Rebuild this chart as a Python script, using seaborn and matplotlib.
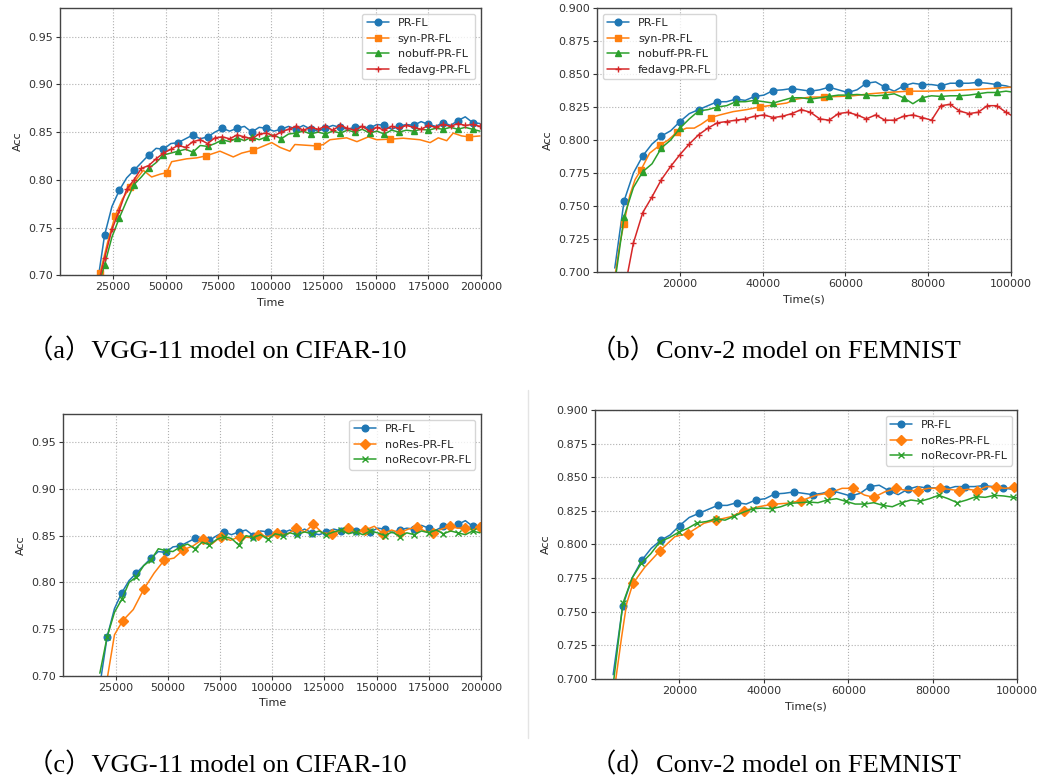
import matplotlib
matplotlib.use("Agg")
import matplotlib.pyplot as plt
import seaborn as sns
from matplotlib.lines import Line2D

# ---- time grids (s) ----
T_A = [17500, 21000, 24500, 28000, 31500, 35000, 38500, 42000, 45500, 49000,
       52500, 56000, 59500, 63000, 66500, 70000, 73500, 77000, 80500, 84000,
       87500, 91000, 94500, 98000, 101500, 105000, 108500, 112000, 115500, 119000,
       122500, 126000, 129500, 133000, 136500, 140000, 143500, 147000, 150500, 154000,
       157500, 161000, 164500, 168000, 171500, 175000, 178500, 182000, 185500, 189000,
       192500, 196000, 199500]
T_B = [4300, 6550, 8800, 11050, 13300, 15550, 17800, 20050, 22300, 24550,
       26800, 29050, 31300, 33550, 35800, 38050, 40300, 42550, 44800, 47050,
       49300, 51550, 53800, 56050, 58300, 60550, 62800, 65050, 67300, 69550,
       71800, 74050, 76300, 78550, 80800, 83050, 85300, 87550, 89800, 92050,
       94300, 96550, 98800, 101050]
T_D_REC = [4400, 6600, 8800, 11000, 13200, 15400, 17600, 19800, 22000, 24200,
           26400, 28600, 30800, 33000, 35200, 37400, 39600, 41800, 44000, 46200,
           48400, 50600, 52800, 55000, 57200, 59400, 61600, 63800, 66000, 68200,
           70400, 72600, 74800, 77000, 79200, 81400, 83600, 85800, 88000, 90200,
           92400, 94600, 96800, 99000, 101200]

# ---- VGG-11 / CIFAR-10 ----
prfl_a = [0.690, 0.742, 0.772, 0.789, 0.802, 0.810, 0.818, 0.826, 0.833, 0.832,
          0.838, 0.839, 0.843, 0.847, 0.843, 0.845, 0.850, 0.854, 0.851, 0.854,
          0.856, 0.850, 0.855, 0.854, 0.851, 0.853, 0.856, 0.853, 0.857, 0.853,
          0.851, 0.854, 0.857, 0.855, 0.853, 0.855, 0.856, 0.854, 0.858, 0.857,
          0.853, 0.856, 0.858, 0.857, 0.861, 0.858, 0.856, 0.860, 0.857, 0.862,
          0.866, 0.860, 0.859]
syn_a_t = [18800, 22500, 26000, 29500, 33100, 39400, 43400, 47500, 50500, 52900,
           60000, 64800, 69100, 75900, 82200, 86200, 91700, 100500, 104400, 109100,
           111500, 121900, 125000, 128200, 136100, 141000, 146400, 150400, 156700, 163000,
           171000, 175800, 179700, 183700, 186800, 190800, 194400, 199500]
syn_a = [0.702, 0.735, 0.762, 0.780, 0.792, 0.810, 0.803, 0.806, 0.8075, 0.819,
         0.822, 0.823, 0.825, 0.830, 0.824, 0.828, 0.831, 0.839, 0.834, 0.830,
         0.837, 0.8355, 0.837, 0.842, 0.844, 0.840, 0.845, 0.842, 0.8426, 0.8436,
         0.842, 0.839, 0.844, 0.841, 0.849, 0.846, 0.845, 0.846]
nobuff_a = [0.685, 0.711, 0.740, 0.760, 0.778, 0.795, 0.803, 0.812, 0.818, 0.826,
            0.828, 0.830, 0.832, 0.829, 0.836, 0.835, 0.838, 0.842, 0.840, 0.844,
            0.841, 0.845, 0.842, 0.845, 0.847, 0.843, 0.848, 0.849, 0.851, 0.848,
            0.850, 0.848, 0.851, 0.849, 0.852, 0.850, 0.853, 0.849, 0.851, 0.848,
            0.852, 0.850, 0.852, 0.851, 0.853, 0.852, 0.854, 0.853, 0.855, 0.853,
            0.855, 0.853, 0.851]
fedavg_a = [0.686, 0.718, 0.748, 0.768, 0.790, 0.800, 0.812, 0.815, 0.822, 0.828,
            0.832, 0.836, 0.834, 0.840, 0.842, 0.838, 0.844, 0.845, 0.843, 0.847,
            0.845, 0.843, 0.848, 0.849, 0.846, 0.850, 0.853, 0.856, 0.852, 0.855,
            0.853, 0.856, 0.852, 0.857, 0.854, 0.852, 0.856, 0.851, 0.855, 0.852,
            0.856, 0.854, 0.857, 0.855, 0.853, 0.857, 0.855, 0.858, 0.856, 0.859,
            0.857, 0.858, 0.856]
nores_c_t = [20500, 24500, 28400, 33500, 38600, 43500, 48400, 53000, 57500, 62100,
             66700, 71100, 75500, 80000, 84600, 89000, 93400, 97900, 102500, 107000,
             111400, 115600, 119700, 124100, 128500, 132500, 136500, 140500, 144500, 148900,
             153200, 157200, 161200, 165200, 169200, 173100, 177000, 181100, 185200, 188700,
             192300, 195900, 199500]
nores_c = [0.690, 0.744, 0.759, 0.771, 0.793, 0.810, 0.824, 0.826, 0.835, 0.839,
           0.846, 0.841, 0.849, 0.845, 0.849, 0.848, 0.851, 0.849, 0.853, 0.851,
           0.858, 0.854, 0.862, 0.853, 0.852, 0.855, 0.858, 0.853, 0.856, 0.860,
           0.852, 0.856, 0.853, 0.857, 0.859, 0.855, 0.853, 0.857, 0.860, 0.858,
           0.858, 0.856, 0.859]
norecovr_c = [0.703, 0.742, 0.768, 0.782, 0.800, 0.806, 0.818, 0.824, 0.836, 0.834,
              0.833, 0.838, 0.841, 0.836, 0.843, 0.840, 0.846, 0.849, 0.847, 0.840,
              0.850, 0.848, 0.851, 0.846, 0.852, 0.850, 0.853, 0.851, 0.854, 0.852,
              0.855, 0.851, 0.854, 0.856, 0.852, 0.854, 0.851, 0.855, 0.853, 0.850,
              0.854, 0.849, 0.853, 0.851, 0.855, 0.853, 0.856, 0.852, 0.855, 0.853,
              0.851, 0.855, 0.853]

# ---- Conv-2 / FEMNIST ----
prfl_b = [0.703, 0.754, 0.775, 0.788, 0.797, 0.803, 0.807, 0.814, 0.820, 0.823,
          0.826, 0.829, 0.829, 0.831, 0.830, 0.833, 0.834, 0.8375, 0.838, 0.839,
          0.838, 0.837, 0.838, 0.840, 0.838, 0.836, 0.838, 0.843, 0.844, 0.840,
          0.837, 0.841, 0.843, 0.842, 0.842, 0.841, 0.843, 0.843, 0.843, 0.8437,
          0.843, 0.842, 0.841, 0.839]
syn_b_t = [4400, 5500, 6450, 7900, 9200, 10560, 12700, 15150, 17200, 19340,
           21600, 23500, 25200, 27480, 29700, 32900, 36100, 39320, 42600, 45800,
           48200, 51400, 54870, 58700, 61900, 65900, 69900, 75420, 79600, 86000,
           92500, 100000]
syn_b = [0.698, 0.721, 0.736, 0.758, 0.770, 0.777, 0.790, 0.796, 0.800, 0.806,
         0.809, 0.809, 0.812, 0.817, 0.819, 0.8215, 0.823, 0.825, 0.8265, 0.828,
         0.831, 0.8325, 0.8326, 0.833, 0.8335, 0.835, 0.836, 0.837, 0.837, 0.8375,
         0.8385, 0.840]
nobuff_b = [0.692, 0.742, 0.764, 0.776, 0.782, 0.794, 0.800, 0.809, 0.816, 0.822,
            0.823, 0.825, 0.826, 0.829, 0.829, 0.830, 0.829, 0.828, 0.830, 0.832,
            0.832, 0.831, 0.832, 0.833, 0.834, 0.834, 0.8345, 0.834, 0.8335, 0.834,
            0.835, 0.832, 0.8275, 0.832, 0.8335, 0.833, 0.8335, 0.8335, 0.834, 0.835,
            0.836, 0.836, 0.837, 0.836]
fedavg_b = [0.620, 0.685, 0.722, 0.745, 0.757, 0.770, 0.780, 0.789, 0.797, 0.804,
            0.809, 0.813, 0.814, 0.815, 0.816, 0.818, 0.819, 0.817, 0.818, 0.820,
            0.823, 0.821, 0.816, 0.815, 0.820, 0.821, 0.819, 0.816, 0.819, 0.815,
            0.815, 0.818, 0.819, 0.817, 0.815, 0.826, 0.827, 0.822, 0.820, 0.821,
            0.826, 0.826, 0.821, 0.817]
nores_d_t = [4900, 6300, 7500, 9000, 11800, 15400, 18900, 22000, 25800, 28600,
             32200, 35200, 38800, 41900, 45500, 48800, 52500, 55300, 58500, 61000,
             63800, 66000, 68700, 71300, 73900, 76500, 79000, 81600, 83800, 86100,
             88300, 90500, 92700, 94900, 97100, 99300, 101000]
nores_d = [0.699, 0.731, 0.756, 0.771, 0.783, 0.7953, 0.8057, 0.808, 0.8157, 0.818,
           0.8206, 0.825, 0.828, 0.8298, 0.8306, 0.8325, 0.8367, 0.838, 0.8417, 0.8417,
           0.8367, 0.835, 0.8392, 0.8417, 0.840, 0.840, 0.8417, 0.8417, 0.841, 0.840,
           0.841, 0.840, 0.843, 0.8425, 0.8417, 0.8425, 0.842]
norecovr_d = [0.698, 0.756, 0.775, 0.786, 0.793, 0.802, 0.805, 0.809, 0.812, 0.816,
              0.817, 0.819, 0.818, 0.821, 0.824, 0.8265, 0.827, 0.8265, 0.828, 0.8305,
              0.831, 0.8315, 0.831, 0.833, 0.834, 0.832, 0.830, 0.830, 0.831, 0.829,
              0.828, 0.831, 0.833, 0.832, 0.834, 0.8365, 0.834, 0.831, 0.833, 0.8355,
              0.835, 0.8365, 0.836, 0.835, 0.834]

# ---- ticks / text ----
XT_CIFAR = [25000, 50000, 75000, 100000, 125000, 150000, 175000, 200000]
YT_CIFAR = [0.70, 0.75, 0.80, 0.85, 0.90, 0.95]
XT_FEM = [20000, 40000, 60000, 80000, 100000]
YT_FEM = [0.700, 0.725, 0.750, 0.775, 0.800, 0.825, 0.850, 0.875, 0.900]
captions = ["（a）VGG-11 model on CIFAR-10", "（b）Conv-2 model on FEMNIST",
            "（c）VGG-11 model on CIFAR-10", "（d）Conv-2 model on FEMNIST"]

sns.set_theme(style="whitegrid", rc={
    "font.size": 8, "axes.labelsize": 8, "xtick.labelsize": 8, "ytick.labelsize": 8,
    "legend.fontsize": 8, "xtick.bottom": True, "ytick.left": True,
    "xtick.major.size": 3, "ytick.major.size": 3, "xtick.major.width": 0.8,
    "ytick.major.width": 0.8, "xtick.color": "#333333", "ytick.color": "#333333",
    "axes.edgecolor": "#444444", "axes.linewidth": 1.0,
    "grid.linestyle": ":", "grid.color": "#b0b0b0", "grid.linewidth": 0.8,
})
plt.rcParams["font.family"] = "DejaVu Sans"
pal = sns.color_palette("tab10")
BLUE, ORANGE, GREEN, RED = pal[0], pal[1], pal[2], pal[3]


def draw(ax, x, y, name, color, marker, every, ms=4.8):
    sns.lineplot(x=x, y=y, ax=ax, color=color, marker=marker, markevery=every,
                 markersize=ms, markeredgecolor=color, markeredgewidth=1.0,
                 linewidth=1.1, label=name, sort=False, estimator=None)


def style(ax, xmax, xt, yt, ylim, xlabel, loc):
    ax.set_xlim(0, xmax)
    ax.set_xticks(xt)
    ax.set_ylim(*ylim)
    ax.set_yticks(yt)
    ax.set_xlabel(xlabel)
    ax.set_ylabel("Acc")
    ax.tick_params(pad=2)
    ax.legend(loc=loc, frameon=True, framealpha=0.8, edgecolor="0.8", fancybox=True)


W, H = 1049, 781
fig = plt.figure(figsize=(W / 100, H / 100), dpi=100)

ax_a = fig.add_axes([60.4 / W, 1 - 275.3 / H, 420.6 / W, 267.3 / H])
draw(ax_a, T_A, prfl_a, "PR-FL", BLUE, "o", (1, 2))
draw(ax_a, syn_a_t, syn_a, "syn-PR-FL", ORANGE, "s", [0, 2, 4, 8, 12, 16, 21, 28, 36])
draw(ax_a, T_A, nobuff_a, "nobuff-PR-FL", GREEN, "^", (1, 2))
draw(ax_a, T_A, fedavg_a, "fedavg-PR-FL", RED, "+", 1, ms=4)
style(ax_a, 200000, XT_CIFAR, YT_CIFAR, (0.70, 0.98), "Time", "upper right")

ax_b = fig.add_axes([597 / W, 1 - 272 / H, 414 / W, 264 / H])
draw(ax_b, T_B, prfl_b, "PR-FL", BLUE, "o", (1, 2))
draw(ax_b, syn_b_t, syn_b, "syn-PR-FL", ORANGE, "s", [2, 5, 7, 9, 13, 17, 22, 27])
draw(ax_b, T_B, nobuff_b, "nobuff-PR-FL", GREEN, "^", (1, 2))
draw(ax_b, T_B, fedavg_b, "fedavg-PR-FL", RED, "+", 1, ms=4)
style(ax_b, 100000, XT_FEM, YT_FEM, (0.70, 0.90), "Time(s)", "upper left")

ax_c = fig.add_axes([63.3 / W, 1 - 676 / H, 417.7 / W, 262 / H])
draw(ax_c, T_A, prfl_a, "PR-FL", BLUE, "o", (1, 2))
draw(ax_c, nores_c_t, nores_c, "noRes-PR-FL", ORANGE, "D", (2, 2))
draw(ax_c, T_A, norecovr_c, "noRecovr-PR-FL", GREEN, "x", (1, 2), ms=4)
style(ax_c, 200000, XT_CIFAR, YT_CIFAR, (0.70, 0.98), "Time", "upper right")

ax_d = fig.add_axes([595 / W, 1 - 678.7 / H, 422.3 / W, 268.7 / H])
draw(ax_d, T_B, prfl_b, "PR-FL", BLUE, "o", (1, 2))
draw(ax_d, nores_d_t, nores_d, "noRes-PR-FL", ORANGE, "D", (3, 2))
draw(ax_d, T_D_REC, norecovr_d, "noRecovr-PR-FL", GREEN, "x", (1, 2), ms=4)
style(ax_d, 100000, XT_FEM, YT_FEM, (0.70, 0.90), "Time(s)", "upper right")

cap_font = ["Liberation Serif", "Noto Sans CJK SC"]
cap_pos = [(27, 351), (590, 351), (27, 765), (590, 765)]
for (cx, cy), txt in zip(cap_pos, captions):
    fig.text(cx / W, 1 - cy / H, txt, family=cap_font, fontsize=19,
             ha="left", va="center", color="black")

# faint divider between the lower panels
fig.add_artist(Line2D([528 / W, 528 / W], [1 - 390 / H, 1 - 738 / H],
                      color="#e4e4e4", linewidth=1.0))

fig.savefig("out.png", dpi=100, facecolor="white")
